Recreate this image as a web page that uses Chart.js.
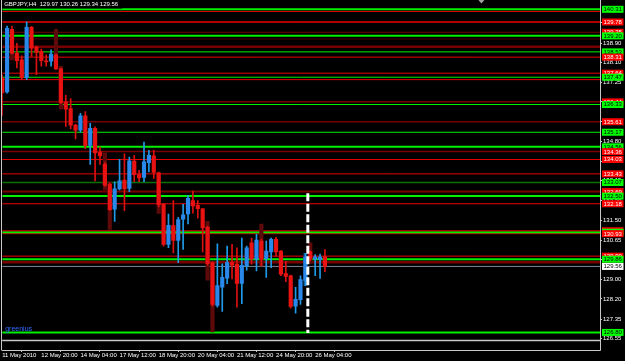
<!DOCTYPE html>
<html><head><meta charset="utf-8">
<script src="https://cdn.jsdelivr.net/npm/chart.js@4/dist/chart.umd.min.js"></script>
<style>html,body{margin:0;padding:0;background:#000;}canvas{display:block;}</style>
</head><body>
<canvas id="c" width="625" height="361"></canvas>
<script>
// ---------- data ----------
const symbolName = "GBPJPY,H4";
const barIdx = [0,1,2,3,4,5,6,7,8,9,10,11,12,13,14,15,16,17,18,19,20,21,22,23,24,25,26,27,28,29,30,31,32,33,34,35,36,37,38,39,40,41,42,43,44,45,46,47,48,49,50,51,52,53,54,55,56,57,58,59,60,61,62,63,64,65,66];
const opens  = [137.44,136.86,139.47,138.48,138.20,137.45,139.56,138.73,138.55,138.16,138.14,138.41,137.82,136.44,136.16,135.47,135.26,135.86,134.62,135.33,134.34,133.83,132.99,131.95,132.80,133.17,132.82,133.96,133.40,133.28,133.90,134.18,133.47,132.16,130.48,131.27,130.65,131.54,131.76,132.31,132.11,131.97,131.21,129.72,127.93,128.69,129.07,129.72,129.65,128.85,129.58,130.55,129.86,130.62,129.88,130.17,130.69,130.20,129.26,129.17,127.90,128.17,128.98,130.18,129.86,129.84,129.97];
const highs  = [137.57,139.61,139.61,138.89,138.37,139.79,139.60,138.77,138.65,138.41,138.62,138.45,137.85,136.71,136.58,135.50,135.96,136.03,135.54,135.40,134.55,133.90,133.05,133.10,134.04,134.27,134.13,134.21,133.58,134.76,134.41,134.41,133.50,132.20,131.75,132.31,131.61,132.16,132.52,132.71,132.31,131.99,131.25,129.75,130.50,129.67,130.41,130.48,130.34,130.75,130.41,130.75,130.90,130.70,130.62,130.75,130.78,130.22,129.77,129.20,128.69,129.17,130.11,130.20,130.06,130.08,130.26];
const lows   = [135.87,136.80,138.45,137.86,137.37,137.37,138.34,137.58,137.93,137.93,137.93,137.80,136.35,135.41,135.31,134.89,135.17,134.48,133.82,133.14,133.82,132.90,131.90,131.44,132.76,131.89,132.69,133.10,133.10,133.10,133.51,133.24,132.05,130.41,130.34,130.13,129.72,130.27,131.34,131.79,131.58,130.17,129.60,127.90,127.86,127.68,128.84,129.04,127.86,128.00,129.40,129.65,129.37,129.58,129.10,129.51,129.99,129.17,128.92,127.82,127.61,127.97,128.76,129.80,129.17,129.06,129.34];
const closes = [136.82,139.51,138.48,138.16,137.45,139.56,138.69,138.51,138.16,138.11,138.44,137.82,136.41,136.13,135.47,135.26,135.86,134.62,135.33,134.31,134.18,132.96,131.93,132.80,133.14,132.80,133.97,133.40,133.26,133.93,134.21,133.49,132.14,130.48,131.28,130.65,131.52,131.72,132.41,132.09,131.97,131.17,129.68,127.97,128.76,129.10,129.72,129.61,128.85,129.61,130.34,129.86,130.66,129.86,130.20,130.69,130.17,129.24,129.14,127.89,128.18,129.01,129.95,129.87,129.96,129.96,129.56];

// darker wide "shadow" candles seen behind some bars
const ghostIdx  = [2,11,12,21,22,32,42,43,53,62,63];
const ghostLow  = [138.19,137.82,136.13,132.77,131.11,131.78,128.99,126.82,129.58,128.76,129.70];
const ghostHigh = [139.47,139.47,137.93,134.31,133.10,133.47,131.45,129.75,131.33,130.11,130.55];
const ghostBull = [false,false,false,false,false,false,false,false,false,true,false];

// horizontal price levels
const levels      = [140.31,140.22,139.78,139.35,139.20,139.07,138.74,138.53,138.31,137.64,137.47,137.37,136.44,136.33,135.61,135.17,134.56,134.36,134.03,133.43,133.07,132.69,132.50,132.18,131.05,130.99,130.93,129.99,129.86,129.74,126.80];
const levelKind   = ["g","r","r","dr","g","fr","dr","g","r","r","g","r","dr","g","dr","g","g","dr","r","r","dg","dr","g","r","r","g","r","r","g","dr","g"];
const levelWidth  = [2,1,1.5,1,2,1,2.5,1,1,1,1,1,1.5,1,1.5,1,2,1.5,1,1,1.5,2,2,1,1,2,1,1,2,2.5,2];
const levelTagged = [true,false,true,true,true,false,false,true,true,true,true,false,true,true,true,true,true,true,true,true,true,true,true,true,true,true,true,true,true,false,true];

const yTickValues = [139.75,138.90,138.10,137.25,136.45,135.60,134.80,133.95,133.15,132.30,131.50,130.65,129.85,129.00,128.20,127.35,126.55];
const xTickBars   = [0,8,16,24,32,40,48,56,64];
const xTickLabels = ["11 May 2010","12 May 20:00","14 May 04:00","17 May 12:00","18 May 20:00","20 May 04:00","21 May 12:00","24 May 20:00","26 May 04:00"];

const markerBar = 62.5, markerTop = 132.62, markerBottom = 126.78;
const shiftMarkBar = 98;
const yMin = 126.066, yMax = 140.507, xMin = 0, xMax = 122.25;

// ---------- styles ----------
const BULL_BODY = '#2a88ea', BULL_WICK = '#1f9ae8', BEAR_BODY = '#e81212', BEAR_WICK = '#dd1010';
const KIND_COLOR = {g:'#00f000', r:'#e80000', dr:'#780000', fr:'#4a0000', dg:'#0a700a'};
const KIND_BOX = {g:'#00ff00', r:'#ff0000', dr:'#ff0000', fr:'#ff0000', dg:'#00ff00'};
const FONT = 'Liberation Sans, Arial, sans-serif';

const isBull = i => closes[i] >= opens[i];

const datasets = [];
levels.forEach((lv, k) => {
  datasets.push({type:'line', data:[{x:xMin,y:lv},{x:xMax,y:lv}], borderColor:KIND_COLOR[levelKind[k]],
    borderWidth:levelWidth[k], pointRadius:0, fill:false, order:10});
});
// bid line
datasets.push({type:'line', data:[{x:xMin,y:closes[closes.length-1]},{x:xMax,y:closes[closes.length-1]}],
  borderColor:'#7a8898', borderWidth:1, pointRadius:0, fill:false, order:9});
datasets.push({type:'bar', data: ghostIdx.map((b,k)=>({x:b, y:[ghostLow[k], ghostHigh[k]]})),
  backgroundColor: ghostIdx.map((b,k)=> ghostBull[k] ? '#0d3d6b' : '#5e0a0a'),
  barThickness:3.5, grouped:false, order:5});
datasets.push({type:'bar', data: barIdx.map(i=>({x:i, y:[lows[i], highs[i]]})),
  backgroundColor: barIdx.map(i=> isBull(i) ? BULL_WICK : BEAR_WICK), barThickness:1, grouped:false, order:3});
datasets.push({type:'bar', data: barIdx.map(i=>({x:i, y:[opens[i], closes[i]]})),
  backgroundColor: barIdx.map(i=> isBull(i) ? BULL_BODY : BEAR_BODY), barThickness:3.5, minBarLength:1, grouped:false, order:2});
datasets.push({type:'line', data:[{x:markerBar,y:markerTop},{x:markerBar,y:markerBottom}], borderColor:'#ffffff',
  borderWidth:3, borderDash:[8,2.5], pointRadius:0, fill:false, order:1});

const decor = {
  id:'decor',
  beforeDraw(chart){
    const c = chart.ctx; c.save(); c.fillStyle = '#000'; c.fillRect(0,0,chart.width,chart.height); c.restore();
  },
  afterDraw(chart){
    const c = chart.ctx, a = chart.chartArea, ys = chart.scales.y, xs = chart.scales.x;
    c.save();
    // frame
    c.strokeStyle = '#c8c8c8'; c.lineWidth = 1;
    c.beginPath();
    c.moveTo(a.left-0.7, 0); c.lineTo(a.left-0.7, a.bottom);
    c.moveTo(a.right+0.5, 0); c.lineTo(a.right+0.5, a.bottom+0.5);
    c.lineTo(a.left-0.7, a.bottom+0.5);
    c.stroke();
    c.lineWidth = 1.5;
    c.beginPath(); c.moveTo(a.left, a.bottom-9.5); c.lineTo(a.right, a.bottom-9.5); c.stroke();
    // chart shift marker
    const sx = xs.getPixelForValue(shiftMarkBar);
    c.fillStyle = '#a0a0a0'; c.beginPath(); c.moveTo(sx-3, 0); c.lineTo(sx+3, 0); c.lineTo(sx, 3.5); c.closePath(); c.fill();
    // title
    const n = closes.length-1;
    const title = symbolName + '  ' + [opens[n],highs[n],lows[n],closes[n]].map(v=>v.toFixed(2)).join(' ');
    c.font = '6px ' + FONT;
    const tw = c.measureText(title).width;
    c.fillStyle = '#000'; c.fillRect(a.left, 0, tw + 6, 8.5);
    c.fillStyle = '#ffffff'; c.textBaseline = 'middle'; c.textAlign = 'left';
    c.fillText(title, a.left + 2, 4.5);
    // signature
    c.font = '7px ' + FONT; c.fillStyle = '#2f6cff';
    c.fillText('greenius', a.left + 3, 329);
    // price tags on the right
    c.font = '6px ' + FONT;
    levels.forEach((lv,k) => {
      if (!levelTagged[k]) return;
      const y = ys.getPixelForValue(lv);
      c.fillStyle = KIND_BOX[levelKind[k]];
      c.fillRect(a.right + 2, y - 3.5, 21.5, 7);
      c.fillStyle = (levelKind[k] === 'g' || levelKind[k] === 'dg') ? '#000' : '#fff';
      c.fillText(lv.toFixed(2), a.right + 3.5, y + 0.3);
    });
    const bid = closes[n], by = ys.getPixelForValue(bid);
    c.fillStyle = '#ffffff'; c.fillRect(a.right + 2, by - 3.5, 21.5, 7);
    c.fillStyle = '#000'; c.fillText(bid.toFixed(2), a.right + 3.5, by + 0.3);
    c.restore();
  }
};

new Chart(document.getElementById('c'), {
  type:'bar',
  data:{datasets},
  options:{
    responsive:false, animation:false, devicePixelRatio:1,
    layout:{padding:{left:2.2, top:1, right:0, bottom:0}},
    plugins:{legend:{display:false}, tooltip:{enabled:false}},
    scales:{
      x:{type:'linear', position:'bottom', min:xMin, max:xMax, offset:false,
        afterBuildTicks(s){ s.ticks = xTickBars.map(v=>({value:v})); },
        afterFit(s){ s.height = 11; },
        ticks:{autoSkip:false, maxRotation:0, minRotation:0, align:'start', padding:0, color:'#ffffff',
          font:{family:FONT, size:6}, callback:(v)=> xTickLabels[xTickBars.indexOf(v)] },
        grid:{display:true, drawOnChartArea:false, drawTicks:true, tickLength:2, color:'#c8c8c8'},
        border:{display:false}},
      y:{type:'linear', position:'right', min:yMin, max:yMax,
        afterBuildTicks(s){ s.ticks = yTickValues.map(v=>({value:v})); },
        afterFit(s){ s.width = 25; },
        ticks:{autoSkip:false, padding:1, color:'#ffffff', font:{family:FONT, size:6}, callback:(v)=> Number(v).toFixed(2)},
        grid:{display:true, drawOnChartArea:false, drawTicks:true, tickLength:2, color:'#c8c8c8'},
        border:{display:false}}
    }
  },
  plugins:[decor]
});
</script>
</body></html>
